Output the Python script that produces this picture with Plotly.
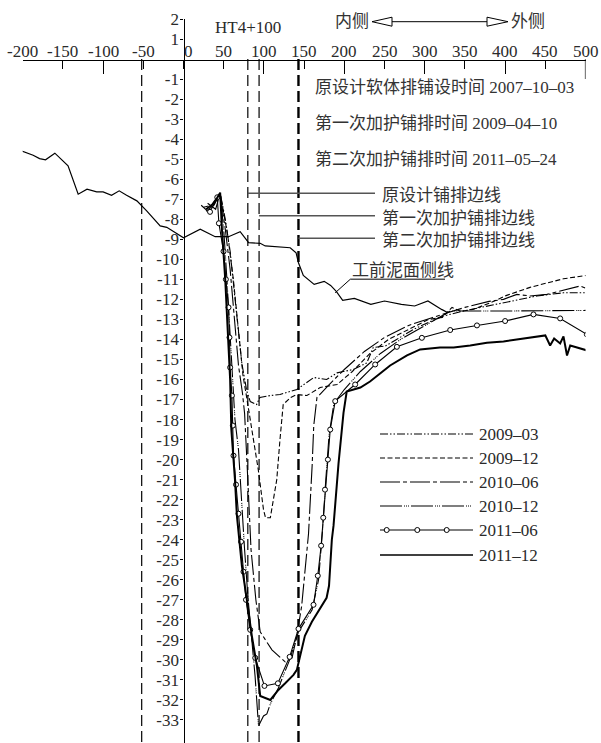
import plotly.graph_objects as go

W, H = 601, 743

# ---------------- data ----------------
x_ticks = [-200, -150, -100, -50, 0, 50, 100, 150, 200, 250, 300, 350, 400, 450, 500]
x_major = [-200, -100, 100, 200, 300, 400]
y_ticks = [2, 1] + [-i for i in range(1, 34)]

mud_x = [-201, -187, -179, -171.6, -160, -143.6, -131, -120, -108, -100, -89.5, -80, -70.8, -58,
         -45.8, -29, -20.8, 0, 20.8, 39.4, 56, 70.5, 81, 95.4, 101.6, 124, 132.7, 140, 143, 149,
         162.5, 175, 183, 190, 198, 212.5, 233, 250, 271, 287.5, 304, 321, 329]
mud_y = [-4.6, -4.8, -4.97, -5.03, -4.7, -5.33, -6.75, -6.5, -6.63, -6.63, -6.8, -6.58, -6.8, -7.08,
         -7.58, -8.33, -8.4, -8.92, -8.5, -8.87, -8.87, -8.62, -9.17, -9.2, -9.33, -9.37, -9.42, -9.67,
         -10.17, -10.8, -11.25, -11.1, -11.3, -11.6, -12.05, -11.95, -12.25, -12.08, -12.25, -12.33,
         -12.08, -12.5, -12.67]

s0903_x = [22, 30, 38, 45.6, 52, 58, 66, 72.6, 78.8, 83, 91, 95, 108, 120, 141, 162, 178, 191, 211,
           228, 236, 251, 265, 286, 307, 323.5, 348, 377, 410, 439.5, 472.6, 502]
s0903_y = [-7.3, -7.6, -7.1, -6.7, -8.0, -9.6, -12.7, -15.2, -16.6, -17.1, -17.25, -16.9, -16.8, -16.75,
           -16.5, -15.9, -16.0, -15.67, -15.5, -15.17, -14.4, -14.33, -14.0, -13.5, -13.1, -12.83, -12.58,
           -12.33, -12.08, -11.83, -11.67, -11.67]

s0912_x = [25, 35, 45.6, 55, 62, 68, 74, 79, 85, 93, 99.5, 102, 108, 116, 120, 124, 133, 141, 153.5,
           170, 191, 210, 232, 255, 280, 305, 322, 334, 345, 360, 381.5, 402, 431, 452, 472.6, 502]
s0912_y = [-7.4, -7.3, -6.7, -8.8, -11, -13.5, -15.8, -17, -18.5, -20.5, -22.5, -22.9, -22.9, -21, -19,
           -17.25, -16.9, -16.75, -16.8, -16.4, -16.25, -15.6, -14.7, -14.0, -13.5, -13.0, -12.9, -12.4,
           -12.6, -12.5, -12.17, -11.8, -11.4, -11.17, -10.97, -10.8]

s1006_x = [30, 40, 45.6, 52, 58, 63, 68.4, 73.4, 76, 78.8, 81, 84, 90, 95.4, 110, 126.5, 135, 141, 147,
           155.5, 160, 162, 166, 180, 200, 225, 250, 280, 310, 350, 380, 398, 414.7, 431, 452, 468.5,
           481, 493.4, 502]
s1006_y = [-7.2, -7.5, -6.7, -8.5, -10.5, -13, -15.3, -16.7, -17.7, -20, -22, -24.5, -27, -28.6, -29.5,
           -30.1, -29.9, -28.8, -27.3, -23.7, -20.3, -18.3, -16.9, -16.3, -15.5, -14.6, -13.9, -13.3,
           -12.9, -12.4, -12.1, -12.0, -11.75, -11.83, -11.75, -11.58, -11.42, -11.33, -11.47]

s1012_x = [28, 38, 45.6, 50, 54, 57.5, 61, 64, 68.4, 72, 76, 80, 85, 89, 93.3, 99.5, 103.7, 108, 118,
           132, 143, 160, 168, 173, 177, 181, 187, 200, 220, 245, 270, 300, 332, 400, 450, 502]
s1012_y = [-7.6, -7.3, -6.7, -8.5, -11, -13.5, -16, -18, -19.5, -22, -24.5, -26.8, -29, -30.8, -33.3,
           -32.8, -32.7, -32.2, -31.4, -30.0, -28.6, -27.5, -26, -23.5, -21, -18.8, -17.2, -16.5, -15.6,
           -14.7, -14.0, -13.3, -12.58, -12.58, -12.55, -12.55]

s1106_x = [33, 42, 44, 49.8, 52.7, 56, 57.2, 58, 60.2, 61.4, 62.2, 65.3, 68.4, 71.6, 74.6, 77.7, 83,
           89.2, 100.7, 117.4, 132, 143, 161.7, 167, 171.2, 173.8, 176, 179.6, 182.5, 188.7, 213.5,
           238.4, 265.4, 296.5, 331.7, 365, 400, 435.3, 468.5, 501.7]
s1106_y = [-7.63, -6.9, -8.2, -9.6, -11, -12.4, -13.9, -15.4, -16.8, -18.3, -19.8, -21.25, -22.7, -24.1,
           -25.6, -27, -28.5, -29.9, -31.3, -31.17, -29.85, -28.45, -27.25, -25.8, -24.3, -22.9, -21.5,
           -20, -18.5, -17.08, -16.25, -15.25, -14.37, -13.92, -13.53, -13.3, -13.08, -12.75, -12.95,
           -13.75]

s1112_x = [28, 38, 45.6, 47.8, 51.9, 55.2, 58, 59.5, 62, 64, 66.4, 72.6, 78.8, 85, 91.3, 95.4, 108, 118,
           126.5, 136.8, 141, 145, 151, 159.7, 172, 178, 181, 182.5, 184.5, 186.6, 192.8, 199, 203, 220,
           232, 244.5, 257, 278, 294.4, 319, 336, 356.6, 377.4, 398, 414.7, 439.5, 450, 456, 461, 468.5,
           472.6, 477, 481, 502]
s1112_y = [-7.5, -7.2, -6.67, -8.5, -11, -13.5, -16, -18.5, -19.8, -21, -22.8, -25.3, -27, -28.8, -30.3,
           -31.8, -32, -31.5, -31.17, -30.75, -30.5, -29.75, -28.8, -28.1, -27.3, -26.9, -26.3, -25.2, -24,
           -23.3, -20.2, -17.67, -16.6, -16.4, -16.1, -15.7, -15.3, -14.8, -14.5, -14.4, -14.4, -14.3,
           -14.17, -14.1, -14.0, -13.85, -13.8, -14.3, -13.95, -14.2, -13.85, -14.8, -14.3, -14.55]

series_names = ["2009–03", "2009–12", "2010–06", "2010–12", "2011–06", "2011–12"]

boundary_x = [-52, 80, 94, 143]
edge_from_x = [80, 94, 143]
edge_y = [-6.7, -7.83, -8.95]
edge_labels = ["原设计铺排边线", "第一次加护铺排边线", "第二次加护铺排边线"]

date_labels = ["原设计软体排铺设时间 2007–10–03", "第一次加护铺排时间 2009–04–10", "第二次加护铺排时间 2011–05–24"]
date_y = [-1.4, -3.2, -5.0]

mud_label = "工前泥面侧线"

# ---------------- geometry / style ----------------
FONT = "Liberation Serif, 'Noto Sans CJK SC', serif"
TXT = "#2a2a2a"
CJK = "#333333"
X0_PX, X1_PX = 22.7, 585.5
Y_TOP_PX = 19.0
XAX_PX = 60.0
YAX_PX = 183.5
Y_RANGE = [-34.15, 2.0]


def px(v):
    return v / W


def py(v):
    return 1 - v / H


def data_x(pxv):
    return (pxv - YAX_PX) / ((X1_PX - X0_PX) / 700.0)


styles = [
    dict(dash="8px,2px,1.5px,2px,1.5px,2px", width=1.1),
    dict(dash="5px,2.5px", width=1.1),
    dict(dash="20px,3px,4px,3px", width=1.1),
    dict(dash="22px,2px,1px,1px,1px,1px,1px,2px", width=1.1),
    dict(dash="solid", width=1.1),
    dict(dash="solid", width=2.0),
]

fig = go.Figure()

# boundary dashed lines
for i, bx in enumerate(boundary_x):
    fig.add_trace(go.Scatter(x=[bx, bx], y=[0, Y_RANGE[0]], mode="lines",
                             line=dict(color="black", width=2.4 if i == 3 else 1.2, dash="11px,5px"),
                             showlegend=False, hoverinfo="skip"))

# leader lines for edges
for fx, ey in zip(edge_from_x, edge_y):
    fig.add_trace(go.Scatter(x=[fx, data_x(375)], y=[ey, ey], mode="lines",
                             line=dict(color="#555555", width=1.5),
                             showlegend=False, hoverinfo="skip"))

# mud line
fig.add_trace(go.Scatter(x=mud_x, y=mud_y, mode="lines", line=dict(color="black", width=1.2),
                         showlegend=False, hoverinfo="skip"))

series = [(s0903_x, s0903_y), (s0912_x, s0912_y), (s1006_x, s1006_y),
          (s1012_x, s1012_y), (s1106_x, s1106_y), (s1112_x, s1112_y)]
for (sx, sy), name, st in zip(series, series_names, styles):
    if name == "2011–06":
        fig.add_trace(go.Scatter(x=sx, y=sy, mode="lines+markers", name=name,
                                 line=dict(color="black", width=st["width"]),
                                 marker=dict(symbol="circle", size=5, color="white",
                                             line=dict(color="black", width=1)),
                                 showlegend=False))
    else:
        fig.add_trace(go.Scatter(x=sx, y=sy, mode="lines", name=name,
                                 line=dict(color="black", width=st["width"], dash=st["dash"]),
                                 showlegend=False))

# dummy trace for the overlay axis with long ticks
fig.add_trace(go.Scatter(x=[None], y=[None], xaxis="x2", yaxis="y", showlegend=False))

shapes = []
annotations = []

# x tick labels (placed just above the axis line)
for xv in x_ticks:
    annotations.append(dict(x=xv + (6 if xv == 0 else 0), y=py(52), xref="x", yref="paper", text=str(xv),
                            showarrow=False, xanchor="center", yanchor="middle",
                            font=dict(size=17, color=TXT, family=FONT)))

# longer end tick at 500
shapes.append(dict(type="line", xref="x", yref="y", x0=500, x1=500, y0=0, y1=-1.0,
                   line=dict(color="black", width=1.2)))

# mud label underline and leader
shapes.append(dict(type="line", xref="x", yref="y", x0=188.7, y0=-11.67, x1=207.3, y1=-11.0,
                   line=dict(color="black", width=1)))
shapes.append(dict(type="line", xref="x", yref="y", x0=207.3, y0=-11.0, x1=data_x(445), y1=-11.0,
                   line=dict(color="#555555", width=1.5)))
annotations.append(dict(x=207.3, y=-10.55, xref="x", yref="y", text=mud_label, showarrow=False,
                        xanchor="left", yanchor="middle", font=dict(size=17, color=CJK, family=FONT)))

# edge labels
for ey, lab in zip(edge_y, edge_labels):
    annotations.append(dict(x=data_x(380), y=ey - 0.12, xref="x", yref="y", text=lab, showarrow=False,
                            xanchor="left", yanchor="middle", font=dict(size=17, color=CJK, family=FONT)))

# date labels
for dy, lab in zip(date_y, date_labels):
    annotations.append(dict(x=data_x(313), y=dy, xref="x", yref="y", text=lab, showarrow=False,
                            xanchor="left", yanchor="middle", font=dict(size=17, color=CJK, family=FONT)))

# HT4+100
annotations.append(dict(x=px(247.5), y=py(28), xref="paper", yref="paper", text="HT4+100",
                        showarrow=False, xanchor="center", yanchor="middle",
                        font=dict(size=17, color=TXT, family=FONT)))

# 内侧 / 外侧 arrow
ay = 21.7
annotations.append(dict(x=px(371), y=py(ay), xref="paper", yref="paper", text="内侧", showarrow=False,
                        xanchor="right", yanchor="middle", font=dict(size=17, color=CJK, family=FONT)))
annotations.append(dict(x=px(509), y=py(ay), xref="paper", yref="paper", text="外侧", showarrow=False,
                        xanchor="left", yanchor="middle", font=dict(size=17, color=CJK, family=FONT)))
shapes.append(dict(type="line", xref="paper", yref="paper", x0=px(392), x1=px(487), y0=py(ay), y1=py(ay),
                   line=dict(color="black", width=1)))
shapes.append(dict(type="path", xref="paper", yref="paper",
                   path=f"M {px(372)},{py(ay)} L {px(392)},{py(ay-4.5)} L {px(392)},{py(ay+4.5)} Z",
                   line=dict(color="black", width=1), fillcolor="white"))
shapes.append(dict(type="path", xref="paper", yref="paper",
                   path=f"M {px(508)},{py(ay)} L {px(487)},{py(ay-4.5)} L {px(487)},{py(ay+4.5)} Z",
                   line=dict(color="black", width=1), fillcolor="white"))

# manual legend
leg_rows = [434, 458, 482, 506, 530, 555]
for rowy, name, st in zip(leg_rows, series_names, styles):
    shapes.append(dict(type="line", xref="paper", yref="paper", x0=px(380), x1=px(473),
                       y0=py(rowy), y1=py(rowy),
                       line=dict(color="black", width=min(st["width"], 1.4), dash=st["dash"])))
    annotations.append(dict(x=px(477), y=py(rowy), xref="paper", yref="paper", text=name,
                            showarrow=False, xanchor="left", yanchor="middle",
                            font=dict(size=17, color=TXT, family=FONT)))
    if name == "2011–06":
        for cx in (386.7, 417.3, 446.7):
            shapes.append(dict(type="circle", xref="paper", yref="paper",
                               x0=px(cx - 2.5), x1=px(cx + 2.5), y0=py(rowy - 2.5), y1=py(rowy + 2.5),
                               line=dict(color="black", width=1), fillcolor="white"))

xdom = [px(X0_PX), px(X1_PX)]

fig.update_layout(
    width=W, height=H,
    margin=dict(l=0, r=0, t=0, b=0, pad=0),
    paper_bgcolor="white", plot_bgcolor="white",
    showlegend=False,
    font=dict(family=FONT, size=17, color=TXT),
    xaxis=dict(domain=xdom, range=[-200, 500], anchor="free", position=py(XAX_PX), side="top",
               showgrid=False, zeroline=False, showline=True, linecolor="black", linewidth=1.2,
               ticks="inside", ticklen=8, tickwidth=1.2, tickcolor="black",
               tickvals=x_ticks, showticklabels=False, automargin=False),
    xaxis2=dict(overlaying="x", domain=xdom, range=[-200, 500], anchor="free", position=py(XAX_PX),
                side="top", showgrid=False, zeroline=False, showline=False,
                ticks="inside", ticklen=13, tickwidth=1.2, tickcolor="black",
                tickvals=x_major, showticklabels=False, automargin=False),
    yaxis=dict(domain=[0, py(Y_TOP_PX)], range=Y_RANGE, anchor="free", position=px(YAX_PX),
               showgrid=False, zeroline=False, showline=True, linecolor="black", linewidth=1.2,
               ticks="outside", ticklen=3, tickwidth=1.2, tickcolor="black",
               tickvals=y_ticks, ticktext=[str(v) for v in y_ticks], ticklabelstandoff=-2,
               tickfont=dict(size=17, color=TXT, family=FONT), automargin=False),
    shapes=shapes,
    annotations=annotations,
)

fig.write_html("out.html", include_plotlyjs=True, config={"displayModeBar": False})
